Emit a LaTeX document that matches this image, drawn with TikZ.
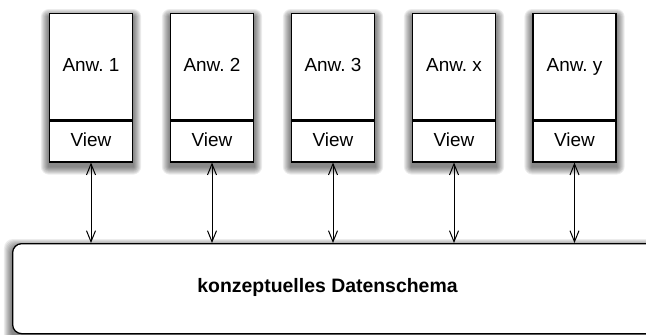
\documentclass[tikz,border=0pt]{standalone}
\usepackage{fontspec}
\setmainfont{Liberation Sans}
\usetikzlibrary{arrows.meta,backgrounds}
\pgfdeclarelayer{shade}
\pgfsetlayers{shade,background,main}
\begin{document}
\frenchspacing
\begin{tikzpicture}[x=1bp,y=-1bp,
  every node/.style={font=\fontsize{19}{22}\selectfont},
  frame/.style={draw, line width=1.3bp, fill=white, inner sep=0pt},
  apppart/.style={frame, minimum width=83bp, minimum height=106bp,
                  text height=13.5bp, text depth=4bp},
  viewpart/.style={frame, minimum width=83bp, minimum height=41bp,
                   text height=13.5bp, text depth=4bp},
  shadowstep/.style={fill=black, fill opacity=0.075},
  link/.style={line width=1bp, {Straight Barb[length=11bp,width=9bp]}-{Straight Barb[length=11bp,width=9bp]}}]
  \useasboundingbox (0,0) rectangle (646,334);
  \clip (0,0) rectangle (646,334);

  % shared schema at the bottom
  \node[frame, rounded corners=9bp, anchor=north west,
        minimum width=700bp, minimum height=90bp] (db) at (12,243) {};
  \node[font=\bfseries\fontsize{19.5}{22}\selectfont] (dbtext) at (327.5,287)
    {konzeptuelles Datenschema};

  % applications, each with its own view
  \foreach \name/\cx/\lbl in {a/91/Anw. 1, b/212/Anw. 2, c/333/Anw. 3,
                              x/454/Anw. x, y/574.5/Anw. y}{
    \node[apppart, anchor=north] (\name) at (\cx,13) {\lbl};
    \node[viewpart, anchor=north] (\name view) at (\name.south) {View};
    \draw[link] (\name view.south) -- (\name view.south |- db.north);
  }

  % soft drop shadows behind the boxes
  \begin{pgfonlayer}{shade}
    \foreach \k in {1,...,8}{
      \foreach \name in {a,b,c,x,y}{
        \fill[shadowstep, rounded corners=\k bp]
          ([xshift=-\k bp, yshift=-4bp+\k bp]\name.north west)
          rectangle ([xshift=\k bp, yshift=-4bp-\k bp]\name view.south east);
      }
      \fill[shadowstep, rounded corners=9bp]
        ([xshift=-\k bp, yshift=-4bp+\k bp]db.north west)
        rectangle ([xshift=\k bp, yshift=-4bp-\k bp]db.south east);
    }
  \end{pgfonlayer}
\end{tikzpicture}
\end{document}
